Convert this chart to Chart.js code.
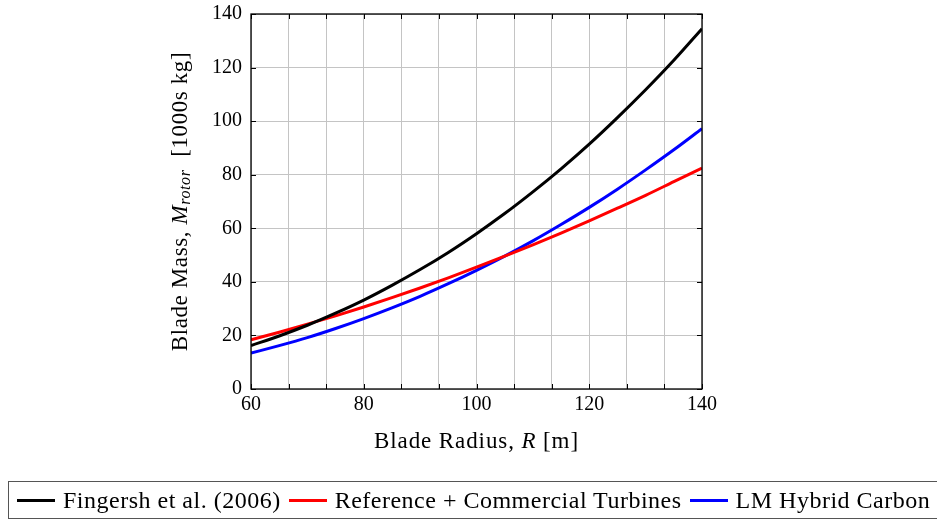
<!DOCTYPE html>
<html>
<head>
<meta charset="utf-8">
<script src="https://cdn.jsdelivr.net/npm/chart.js@4.4.1/dist/chart.umd.min.js"></script>
<style>
    html, body { margin: 0; padding: 0; background: #fff; }
    #wrap { position: relative; width: 937px; height: 521px; overflow: hidden; }
    #legend {
        position: absolute; left: 8px; top: 481px; width: 960px; height: 38px;
        border: 1px solid #555; box-sizing: border-box;
        display: flex; align-items: center; white-space: nowrap;
        font: 24px "Liberation Serif", serif; letter-spacing: 0.5px; color: #000;
    }
    #legend .key { display: inline-block; width: 38px; height: 3px; margin-right: 8px; }
    #legend .item { display: flex; align-items: center; margin-right: 8px; }
    #legend .item:first-child { margin-left: 8px; }
</style>
</head>
<body>
<div id="wrap">
    <canvas id="chart" width="937" height="521"></canvas>
    <div id="legend"></div>
</div>
<script>
// values (blade mass in 1000s kg against blade radius in m)
const radius = [60, 65, 70, 75, 80, 85, 90, 95, 100, 105, 110, 115, 120, 125, 130, 135, 140];
const fingersh = [16.2, 19.8, 23.8, 28.3, 33.2, 38.7, 44.6, 51.0, 58.0, 65.5, 73.6, 82.2, 91.4, 101.3, 111.7, 122.7, 134.5];
const commercial = [18.4, 21.2, 24.2, 27.3, 30.6, 34.1, 37.7, 41.5, 45.5, 49.6, 53.8, 58.2, 62.8, 67.5, 72.3, 77.4, 82.5];
const hybridCarbon = [13.4, 16.2, 19.2, 22.6, 26.3, 30.3, 34.6, 39.3, 44.3, 49.6, 55.3, 61.4, 67.8, 74.6, 81.8, 89.3, 97.2];

const seriesNames = ["Fingersh et al. (2006)", "Reference + Commercial Turbines", "LM Hybrid Carbon"];
const seriesColors = ["#000000", "#ff0000", "#0000ff"];

const xTickLabels = [60, 80, 100, 120, 140];
const yTickLabels = [0, 20, 40, 60, 80, 100, 120, 140];
const xMinorSteps = 12; // vertical grid lines split 60..140 into 12

const SERIF = '"Liberation Serif", "Times New Roman", serif';

const pairs = (values) => radius.map((r, i) => ({ x: r, y: values[i] }));

// axis titles with italic symbol + subscript, drawn as real text
const richTitles = {
    id: "richTitles",
    afterDraw(chart) {
        const { ctx, chartArea } = chart;
        const drawRich = (parts) => {
            const fonts = parts.map(p => (p.italic ? "italic " : "") + (p.size || 23) + "px " + SERIF);
            let total = 0;
            const widths = parts.map((p, i) => { ctx.font = fonts[i]; const w = ctx.measureText(p.text).width; total += w; return w; });
            let x = -total / 2;
            parts.forEach((p, i) => {
                ctx.font = fonts[i];
                ctx.fillText(p.text, x, p.shift || 0);
                x += widths[i];
            });
        };
        ctx.save();
        ctx.fillStyle = "#000";
        ctx.textBaseline = "middle";
        ctx.textAlign = "left";
        ctx.letterSpacing = "0.9px";

        ctx.save();
        ctx.translate((chartArea.left + chartArea.right) / 2, 442);
        drawRich([
            { text: "Blade Radius, " },
            { text: "R", italic: true },
            { text: " [m]" },
        ]);
        ctx.restore();

        ctx.save();
        ctx.letterSpacing = "0.6px";
        ctx.translate(181, (chartArea.top + chartArea.bottom) / 2);
        ctx.rotate(-Math.PI / 2);
        drawRich([
            { text: "Blade Mass, " },
            { text: "M", italic: true },
            { text: "rotor", italic: true, size: 16, shift: 5 },
            { text: "  [1000s kg]" },
        ]);
        ctx.restore();
        ctx.restore();
    }
};

// inward tick marks on all four sides plus the full axis box
const frame = {
    id: "frame",
    afterDatasetsDraw(chart) {
        const { ctx, chartArea: a, scales } = chart;
        ctx.save();
        ctx.strokeStyle = "#000";
        ctx.lineWidth = 1;
        scales.x.ticks.forEach(t => {
            const px = Math.round(scales.x.getPixelForValue(t.value)) + 0.5;
            ctx.beginPath();
            ctx.moveTo(px, a.bottom); ctx.lineTo(px, a.bottom - 5);
            ctx.moveTo(px, a.top); ctx.lineTo(px, a.top + 5);
            ctx.stroke();
        });
        scales.y.ticks.forEach(t => {
            const py = Math.round(scales.y.getPixelForValue(t.value)) + 0.5;
            ctx.beginPath();
            ctx.moveTo(a.left, py); ctx.lineTo(a.left + 5, py);
            ctx.moveTo(a.right, py); ctx.lineTo(a.right - 5, py);
            ctx.stroke();
        });
        ctx.lineWidth = 1.3;
        ctx.strokeRect(a.left, a.top, a.right - a.left, a.bottom - a.top);
        ctx.restore();
    }
};

const chart = new Chart(document.getElementById("chart"), {
    type: "line",
    data: {
        datasets: [fingersh, commercial, hybridCarbon].map((values, index) => ({
            label: seriesNames[index],
            data: pairs(values),
            borderColor: seriesColors[index],
            backgroundColor: seriesColors[index],
            borderWidth: 3,
            pointRadius: 0,
            cubicInterpolationMode: "monotone",
            fill: false,
        })),
    },
    options: {
        responsive: false,
        devicePixelRatio: 1,
        animation: false,
        layout: {
            padding: { left: 170, right: 235, top: 14, bottom: 66 },
        },
        plugins: {
            legend: { display: false },
            tooltip: { enabled: false },
        },
        scales: {
            x: {
                type: "linear",
                min: 60,
                max: 140,
                afterBuildTicks: (scale) => {
                    scale.ticks = Array.from({ length: xMinorSteps + 1 }, (_, i) => ({ value: 60 + i * 80 / xMinorSteps }));
                },
                afterFit: (scale) => {
                    scale.height = 66;
                    scale.paddingLeft = 0;
                    scale.paddingRight = 0;
                },
                grid: { color: "#c4c4c4", lineWidth: 1, drawTicks: false },
                border: { display: false },
                ticks: {
                    autoSkip: false,
                    maxRotation: 0,
                    padding: 4,
                    color: "#000",
                    font: { family: SERIF, size: 20 },
                    callback: (value) => {
                        const hit = xTickLabels.find(v => Math.abs(v - value) < 1e-6);
                        return hit === undefined ? "" : String(hit);
                    },
                },
                title: { display: false },
            },
            y: {
                type: "linear",
                min: 0,
                max: 140,
                afterBuildTicks: (scale) => {
                    scale.ticks = yTickLabels.map(v => ({ value: v }));
                },
                afterFit: (scale) => {
                    scale.width = 81;
                    scale.paddingTop = 0;
                    scale.paddingBottom = 0;
                },
                grid: { color: "#c4c4c4", lineWidth: 1, drawTicks: false },
                border: { display: false },
                ticks: {
                    padding: 9,
                    color: "#000",
                    font: { family: SERIF, size: 20 },
                },
                title: { display: false },
            },
        },
    },
    plugins: [frame, richTitles],
});

// legend as a plain html row under the chart
const legend = document.getElementById("legend");
chart.data.datasets.forEach((dataset) => {
    const item = document.createElement("span");
    item.className = "item";
    const key = document.createElement("span");
    key.className = "key";
    key.style.background = dataset.borderColor;
    item.appendChild(key);
    item.appendChild(document.createTextNode(dataset.label));
    legend.appendChild(item);
});
</script>
</body>
</html>
